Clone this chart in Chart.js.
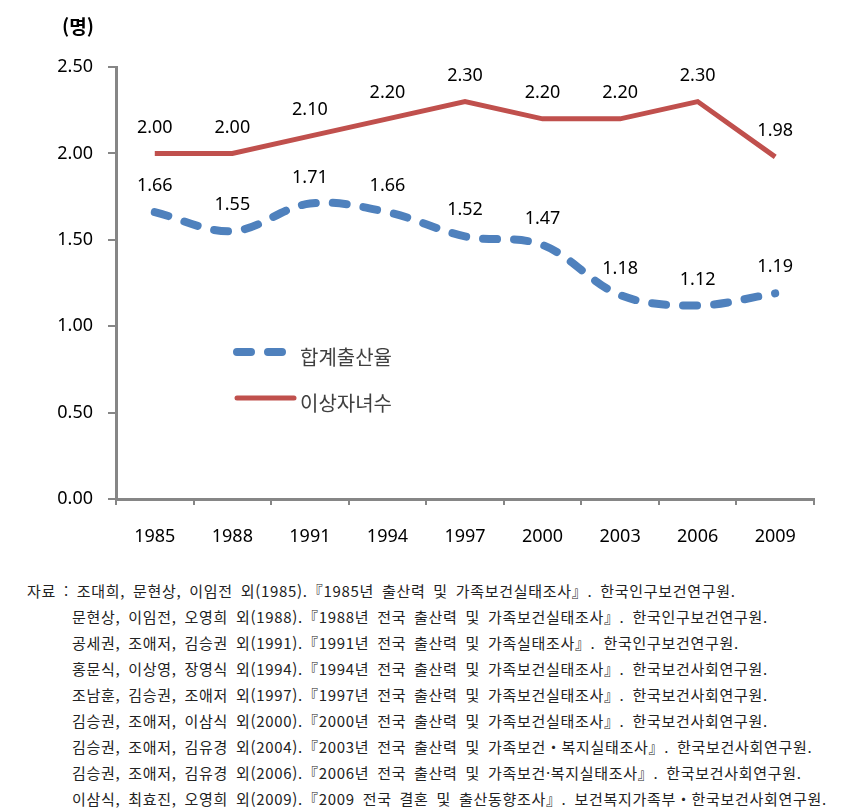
<!DOCTYPE html>
<html lang="ko">
<head>
<meta charset="utf-8">
<script src="https://cdn.jsdelivr.net/npm/chart.js@4.4.1/dist/chart.umd.min.js"></script>
<style>
    body { margin: 0; background: #fff; }
    #wrap { position: relative; width: 851px; height: 812px; }
    #chartBox { position: absolute; left: 0; top: 0; width: 851px; height: 565px; }
    #unit { position: absolute; left: 62px; top: 12px; font: bold 19px "Noto Sans CJK KR", sans-serif; color: #000; }
    #notes { position: absolute; left: 27px; top: 578px; font-family: "Noto Sans CJK KR", serif; font-size: 15px; color: #222; letter-spacing: 0.7px; word-spacing: 3px; }
    #notes div { height: 26px; line-height: 26px; white-space: nowrap; }
    #notes .ind { padding-left: 45px; }
</style>
</head>
<body>
<div id="wrap">
    <div id="chartBox"><canvas id="fertilityChart"></canvas></div>
    <div id="unit">(명)</div>
    <div id="notes"></div>
</div>
<script>
// 조사 연도
const years = ['1985', '1988', '1991', '1994', '1997', '2000', '2003', '2006', '2009'];
// 합계출산율
const tfrValues = [1.66, 1.55, 1.71, 1.66, 1.52, 1.47, 1.18, 1.12, 1.19];
// 이상자녀수
const idealValues = [2.00, 2.00, 2.10, 2.20, 2.30, 2.20, 2.20, 2.30, 1.98];
const yTicks = [0, 0.5, 1.0, 1.5, 2.0, 2.5];

const sources = [
    '자료 : 조대희, 문현상, 이임전 외(1985).『1985년 출산력 및 가족보건실태조사』. 한국인구보건연구원.',
    '문현상, 이임전, 오영희 외(1988).『1988년 전국 출산력 및 가족보건실태조사』. 한국인구보건연구원.',
    '공세권, 조애저, 김승권 외(1991).『1991년 전국 출산력 및 가족실태조사』. 한국인구보건연구원.',
    '홍문식, 이상영, 장영식 외(1994).『1994년 전국 출산력 및 가족보건실태조사』. 한국보건사회연구원.',
    '조남훈, 김승권, 조애저 외(1997).『1997년 전국 출산력 및 가족보건실태조사』. 한국보건사회연구원.',
    '김승권, 조애저, 이삼식 외(2000).『2000년 전국 출산력 및 가족보건실태조사』. 한국보건사회연구원.',
    '김승권, 조애저, 김유경 외(2004).『2003년 전국 출산력 및 가족보건・복지실태조사』. 한국보건사회연구원.',
    '김승권, 조애저, 김유경 외(2006).『2006년 전국 출산력 및 가족보건·복지실태조사』. 한국보건사회연구원.',
    '이삼식, 최효진, 오영희 외(2009).『2009 전국 결혼 및 출산동향조사』. 보건복지가족부・한국보건사회연구원.'
];

const notesEl = document.getElementById('notes');
sources.forEach((s, i) => {
    const d = document.createElement('div');
    d.textContent = s;
    if (i > 0) d.className = 'ind';
    notesEl.appendChild(d);
});

const BLUE = '#4F81BD';
const RED = '#C0504D';
const AXIS = '#868686';

// value labels above every point
const valueLabels = {
    id: 'valueLabels',
    afterDatasetsDraw(chart) {
        const ctx = chart.ctx;
        ctx.save();
        ctx.font = '18px "Noto Sans", sans-serif';
        ctx.fillStyle = '#000';
        ctx.textAlign = 'center';
        ctx.textBaseline = 'middle';
        chart.data.datasets.forEach((ds, i) => {
            chart.getDatasetMeta(i).data.forEach((pt, j) => {
                ctx.fillText(ds.data[j].toFixed(2), pt.x, pt.y - 26);
            });
        });
        ctx.restore();
    }
};

// legend drawn inside the plot area
const innerLegend = {
    id: 'innerLegend',
    afterDraw(chart) {
        const ctx = chart.ctx;
        const x0 = 237, x1 = 294;
        const rows = [
            { y: 352, ds: chart.data.datasets[0] },
            { y: 398, ds: chart.data.datasets[1] }
        ];
        ctx.save();
        rows.forEach(r => {
            ctx.beginPath();
            ctx.strokeStyle = r.ds.borderColor;
            ctx.lineWidth = r.ds.borderWidth;
            ctx.lineCap = 'round';
            ctx.setLineDash(r.ds.borderDash || []);
            ctx.moveTo(x0, r.y);
            ctx.lineTo(x1, r.y);
            ctx.stroke();
            ctx.setLineDash([]);
            ctx.font = '20px "Noto Sans CJK KR", sans-serif';
            ctx.fillStyle = '#404040';
            ctx.textBaseline = 'middle';
            ctx.fillText(r.ds.label, x1 + 6, r.y + 5);
        });
        ctx.restore();
    }
};

new Chart(document.getElementById('fertilityChart'), {
    type: 'line',
    data: {
        labels: years,
        datasets: [
            {
                label: '합계출산율',
                data: tfrValues,
                borderColor: BLUE,
                borderWidth: 8,
                borderDash: [14, 17],
                borderCapStyle: 'round',
                pointRadius: 0,
                tension: 0.35,
                fill: false
            },
            {
                label: '이상자녀수',
                data: idealValues,
                borderColor: RED,
                borderWidth: 5,
                pointRadius: 0,
                tension: 0,
                fill: false
            }
        ]
    },
    options: {
        responsive: true,
        maintainAspectRatio: false,
        animation: false,
        layout: { padding: { top: 67, right: 37, left: 0, bottom: 0 } },
        plugins: {
            legend: { display: false },
            tooltip: { enabled: false }
        },
        scales: {
            x: {
                offset: true,
                grid: {
                    offset: true,
                    drawOnChartArea: false,
                    drawTicks: true,
                    tickLength: 6,
                    color: AXIS,
                    lineWidth: 2
                },
                border: { color: AXIS, width: 3 },
                ticks: {
                    color: '#000',
                    padding: 21,
                    font: { family: 'Noto Sans', size: 18 }
                },
                afterFit: (scale) => { scale.height = 66; }
            },
            y: {
                min: 0,
                max: 2.5,
                afterBuildTicks: (scale) => { scale.ticks = yTicks.map(v => ({ value: v })); },
                grid: {
                    drawOnChartArea: false,
                    drawTicks: true,
                    tickLength: 8,
                    color: AXIS,
                    lineWidth: 2
                },
                border: { color: AXIS, width: 3 },
                ticks: {
                    color: '#000',
                    padding: 15,
                    font: { family: 'Noto Sans', size: 18 },
                    callback: (v) => Number(v).toFixed(2)
                },
                afterFit: (scale) => { scale.width = 116; }
            }
        }
    },
    plugins: [valueLabels, innerLegend]
});
</script>
</body>
</html>
